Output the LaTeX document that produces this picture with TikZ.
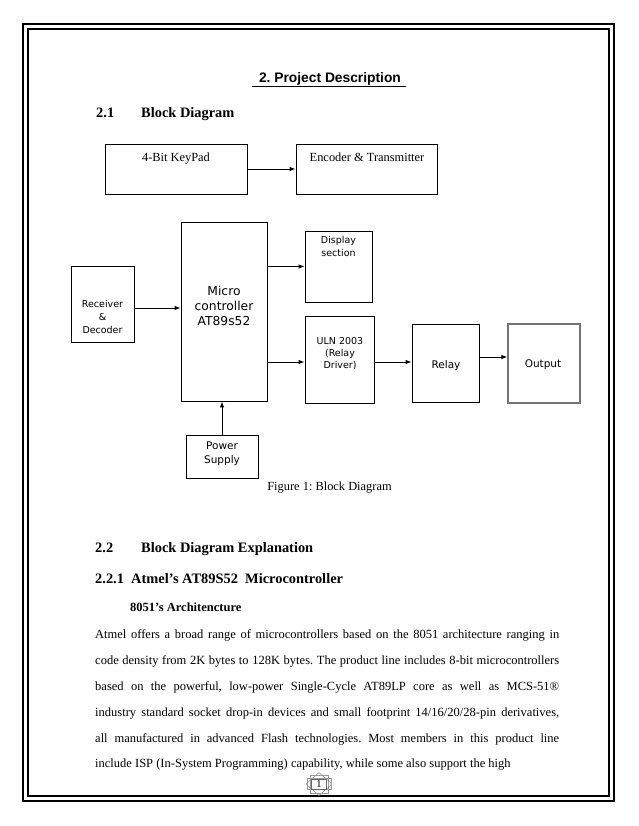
\documentclass[tikz,border=0pt]{standalone}
\usepackage{fontspec}
\setmainfont{Liberation Serif}
\newfontfamily\arialfont{Liberation Sans}
\newfontfamily\verdfont{DejaVu Sans}
\usetikzlibrary{arrows.meta,calc}
\frenchspacing
\tikzset{
  blk/.style={draw=black, line width=0.9pt, inner sep=0pt},
  arr/.style={line width=0.9pt, -{Latex[length=6pt,width=4.5pt]}},
  sertxt/.style={font=\fontsize{12.4}{14}\selectfont, inner sep=0pt},
  sanstxt/.style={font=\verdfont\fontsize{9.5}{13}\selectfont, align=center, inner sep=0pt},
  bodyline/.style={anchor=base west, inner sep=0pt, font=\fontsize{12.5}{14}\selectfont},
  headtxt/.style={anchor=base west, inner sep=0pt, font=\bfseries\fontsize{14.4}{16}\selectfont},
}
\begin{document}
\begin{tikzpicture}[x=1pt,y=-1pt]
\useasboundingbox (0,0) rectangle (638,826);
\fill[white] (0,0) rectangle (638,826);
% page border
\draw[line width=2.4pt] (23,24) rectangle (614,801);
\draw[line width=1.3pt] (28,29) rectangle (609,796);

% title
\node[anchor=base, inner sep=0pt, font=\arialfont\bfseries\fontsize{13.8}{16}\selectfont] (title) at (330,83) {2. Project Description};
\draw[line width=0.9pt] (252,86) -- (406,86);

% 2.1
\node[headtxt] (h21n) at (96,118) {2.1};
\node[headtxt] (h21) at (141,118) {Block Diagram};

% top row
\node[blk, minimum width=142pt, minimum height=50pt] (keypad) at (176,169) {};
\node[sertxt, anchor=base] (keypadt) at (176,162) {4-Bit KeyPad};
\node[blk, minimum width=141pt, minimum height=50pt] (encoder) at (366.5,169) {};
\node[sertxt, anchor=base] (encodert) at (367,162) {Encoder \& Transmitter};
\draw[arr] (keypad.east) -- (encoder.west);

% main diagram
\node[blk, minimum width=86pt, minimum height=179pt] (micro) at (224,311.5) {};
\node[sanstxt, font=\verdfont\fontsize{12.3}{15.2}\selectfont] (microt) at (224,306) {Micro\\controller\\AT89s52};

\node[blk, minimum width=63pt, minimum height=76pt] (receiver) at (102.5,304) {};
\node[sanstxt] (receivert) at (102.5,317) {Receiver\\\&\\Decoder};

\node[blk, minimum width=67pt, minimum height=71pt] (display) at (338.5,266.5) {};
\node[sanstxt, anchor=north] (displayt) at (338.5,236) {Display\\section};

\node[blk, minimum width=69pt, minimum height=87pt] (uln) at (339.5,359.5) {};
\node[sanstxt, font=\verdfont\fontsize{9.5}{12}\selectfont] (ulnt) at (340,354) {ULN 2003\\(Relay\\Driver)};

\node[blk, minimum width=67pt, minimum height=78pt] (relay) at (445.5,363) {};
\node[sanstxt, font=\verdfont\fontsize{10.5}{13}\selectfont] (relayt) at (446,366) {Relay};

\node[blk, draw=black!55, line width=1.2pt, minimum width=72pt, minimum height=79pt] (output) at (544,363.5) {};
\node[sanstxt, font=\verdfont\fontsize{10.5}{13}\selectfont] (outputt) at (543,365) {Output};

\node[blk, minimum width=72pt, minimum height=43pt] (power) at (222,456.5) {};
\node[sanstxt, font=\verdfont\fontsize{10.5}{13.5}\selectfont] (powert) at (222,454) {Power\\Supply};

\coordinate (yrx) at (0,308);
\coordinate (yul) at (0,362);
\coordinate (yro) at (0,357);
\draw[arr] (receiver.east |- yrx) -- (micro.west |- yrx);
\draw[arr] (micro.east |- display.west) -- (display.west);
\draw[arr] (micro.east |- yul) -- (uln.west |- yul);
\draw[arr] (uln.east |- yul) -- (relay.west |- yul);
\draw[arr] (relay.east |- yro) -- (output.west |- yro);
\draw[arr] (power.north) -- (micro.south -| power.north);

\node[sertxt, anchor=base] (caption) at (329.5,490) {Figure 1: Block Diagram};

% 2.2
\node[headtxt] (h22n) at (95,552) {2.2};
\node[headtxt] (h22) at (141,552) {Block Diagram Explanation};
\node[headtxt] (h221) at (95,583) {2.2.1\ \ Atmel’s AT89S52\ \ Microcontroller};
\node[headtxt, font=\bfseries\fontsize{12.5}{14}\selectfont] (arch) at (130,611) {8051’s Architencture};

\node[bodyline] (l1) at (95,638) {\hbox to 464pt{Atmel offers a broad range of microcontrollers based on the 8051 architecture ranging in}};
\node[bodyline] (l2) at (95,664) {\hbox to 464pt{code density from 2K bytes to 128K bytes. The product line includes 8-bit microcontrollers}};
\node[bodyline] (l3) at (95,690) {\hbox to 464pt{based on the powerful, low-power Single-Cycle AT89LP core as well as MCS-51®}};
\node[bodyline] (l4) at (95,716) {\hbox to 464pt{industry standard socket drop-in devices and small footprint 14/16/20/28-pin derivatives,}};
\node[bodyline] (l5) at (95,742) {\hbox to 464pt{all manufactured in advanced Flash technologies. Most members in this product line}};
\node[bodyline] (l6) at (95,767) {include ISP (In-System Programming) capability, while some also support the high};

% page number ornament
\begin{scope}[shift={(319,784)}, draw=black!40, line width=0.6pt]
  \draw (-9,-9) rectangle (9,9);
  \draw (0,-11.5) -- (13,0) -- (0,11.5) -- (-13,0) -- cycle;
  \draw (-12,-5.5) rectangle (12,5.5);
\end{scope}
\node[inner sep=0pt, font=\fontsize{10.5}{12}\selectfont, fill=white, draw=black!60, line width=0.5pt, minimum width=15pt, minimum height=10pt] (pnum) at (319,784) {1};
\end{tikzpicture}
\end{document}
